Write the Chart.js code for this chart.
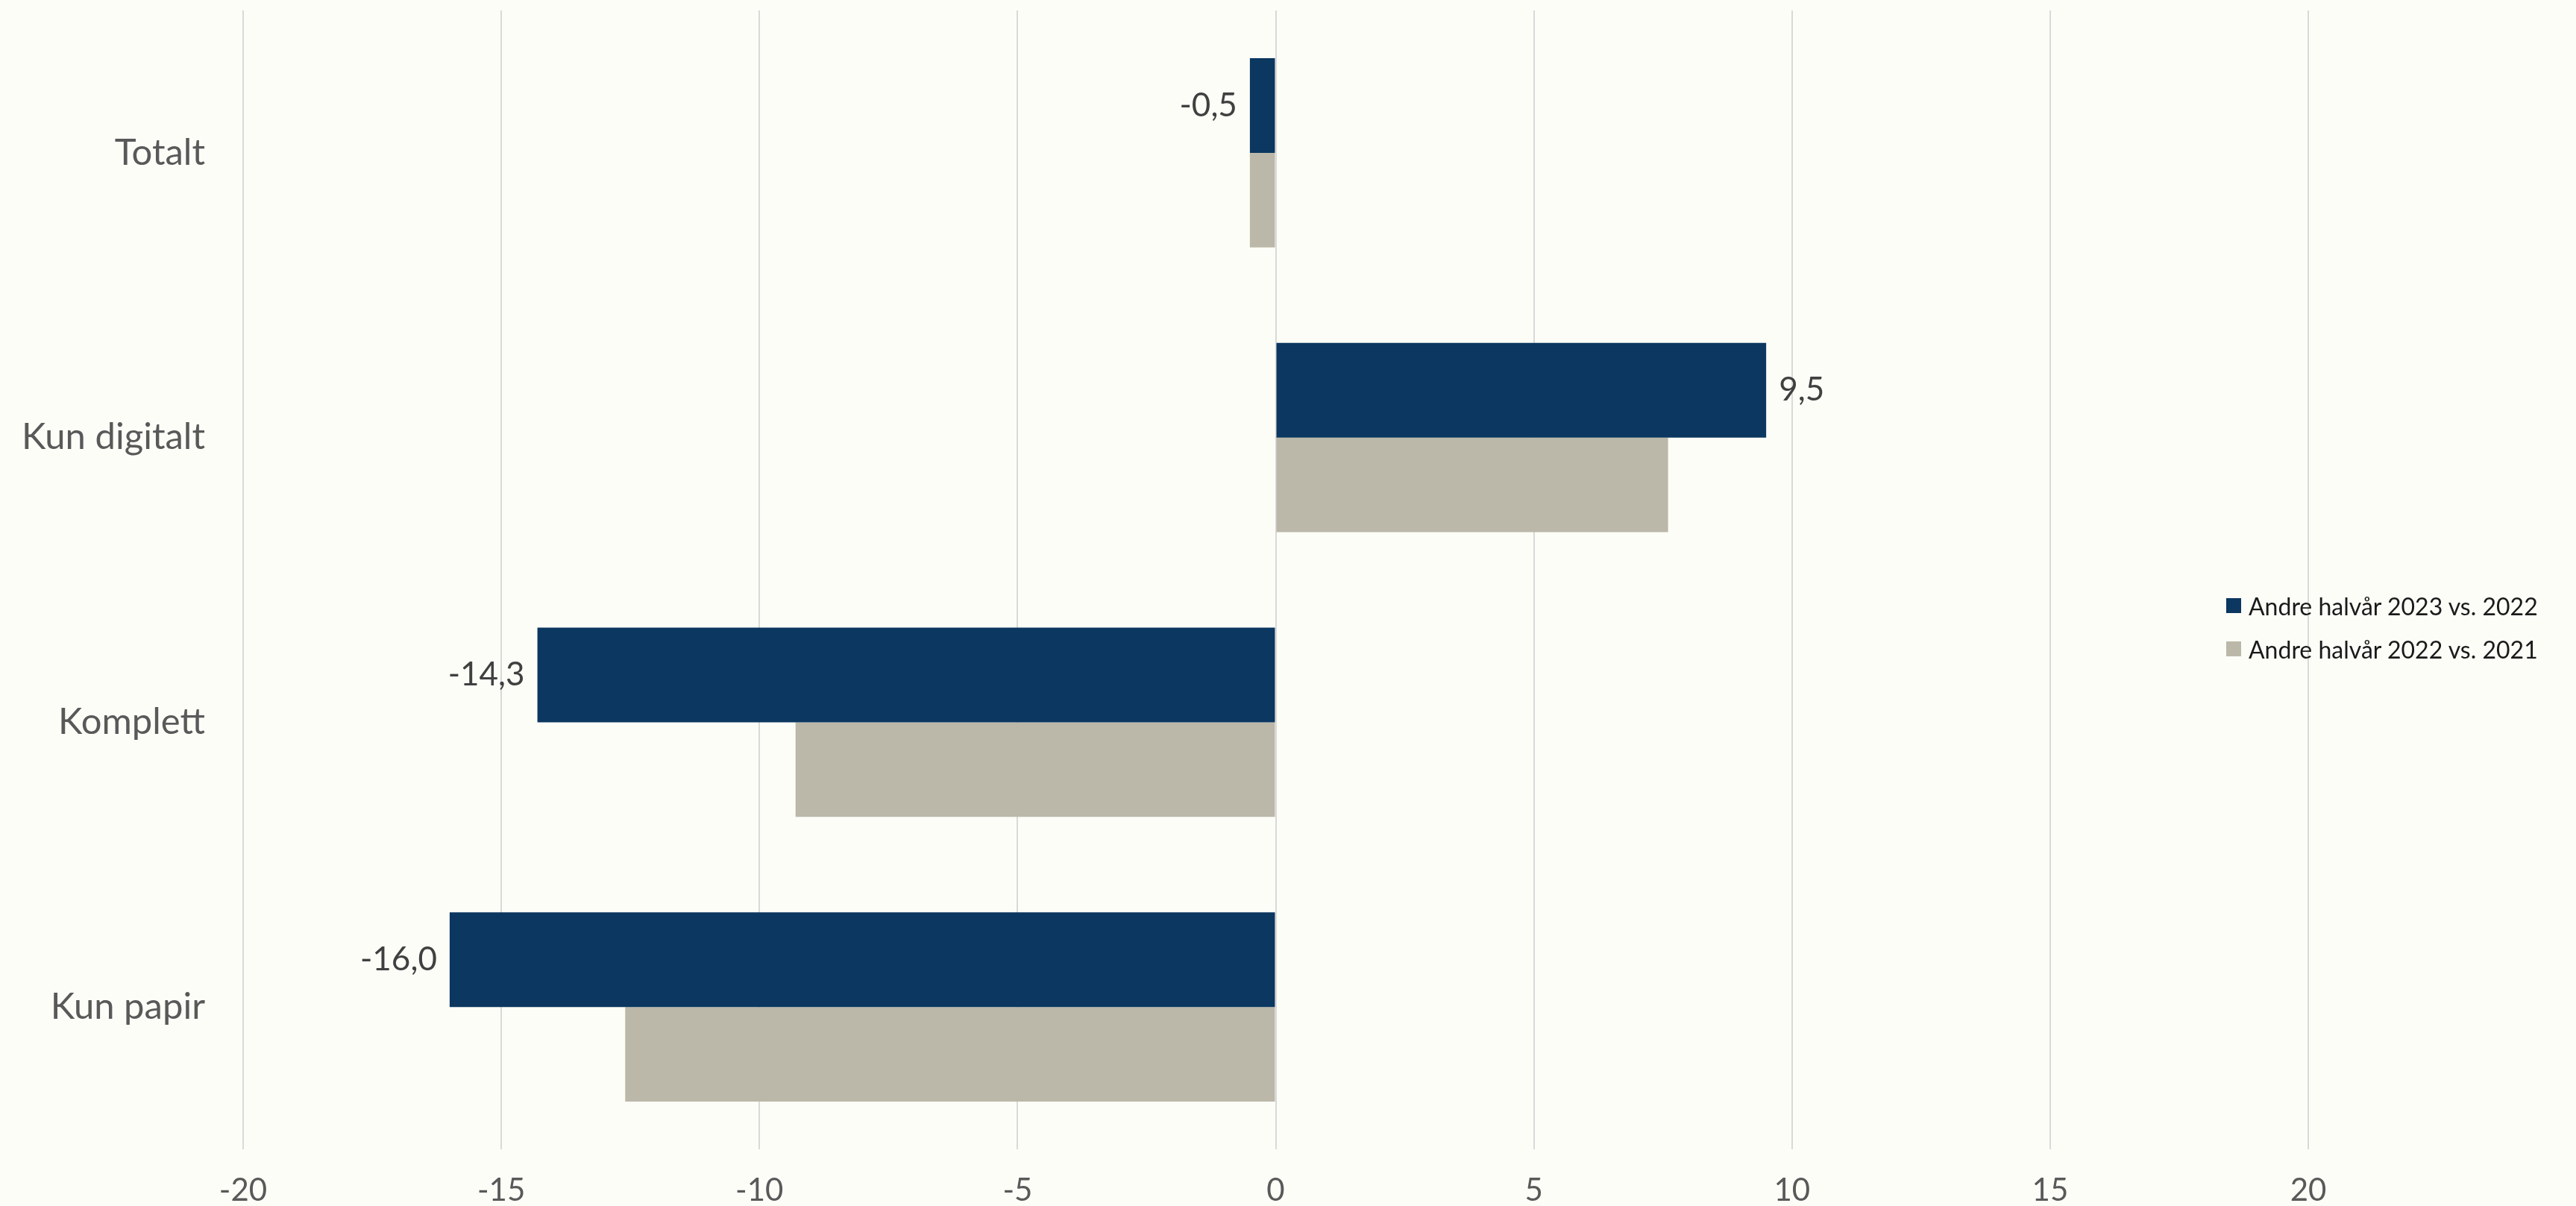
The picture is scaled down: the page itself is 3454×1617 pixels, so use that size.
<!DOCTYPE html>
<html>
<head>
<meta charset="utf-8">
<script src="https://cdn.jsdelivr.net/npm/chart.js@4.4.1/dist/chart.umd.min.js"></script>
<style>
  html, body { margin: 0; padding: 0; background: #FDFDF8; }
  #wrap { position: relative; width: 3454px; height: 1617px; background: #FDFDF8; }
  #legend { position: absolute; left: 2985px; top: 783px; font-family: Lato, "Open Sans", sans-serif; font-size: 32px; color: #1a1a1a; }
  .item { display: flex; align-items: center; height: 58px; white-space: nowrap; }
  .sw { width: 20px; height: 20px; margin-right: 10px; flex: none; }
</style>
</head>
<body>
<div id="wrap">
  <canvas id="c" width="3454" height="1617"></canvas>
  <div id="legend"></div>
</div>
<script>
const categories = ["Totalt", "Kun digitalt", "Komplett", "Kun papir"];
const seriesNames = ["Andre halvår 2023 vs. 2022", "Andre halvår 2022 vs. 2021"];
const values2023 = [-0.5, 9.5, -14.3, -16.0];
const values2022 = [-0.5, 7.6, -9.3, -12.6];
const xTicks = [-20, -15, -10, -5, 0, 5, 10, 15, 20];
const colors = ["#0B3760", "#BBB8A9"];

const FONT = "Lato, 'Open Sans', sans-serif";

const legendEl = document.getElementById('legend');
seriesNames.forEach((n, i) => {
  const d = document.createElement('div');
  d.className = 'item';
  d.innerHTML = '<span class="sw" style="background:' + colors[i] + '"></span><span></span>';
  d.lastChild.textContent = n;
  legendEl.appendChild(d);
});

const labelPlugin = {
  id: 'valueLabels',
  afterDatasetsDraw(chart) {
    const ctx = chart.ctx;
    const meta = chart.getDatasetMeta(0);
    ctx.save();
    ctx.font = "44px " + FONT;
    ctx.fillStyle = "#404040";
    ctx.textBaseline = "middle";
    meta.data.forEach((bar, i) => {
      const v = values2023[i];
      const txt = v.toFixed(1).replace('.', ',');
      if (v >= 0) {
        ctx.textAlign = "left";
        ctx.fillText(txt, bar.x + 17, bar.y);
      } else {
        ctx.textAlign = "right";
        ctx.fillText(txt, bar.x - 17, bar.y);
      }
    });
    ctx.restore();
  }
};

new Chart(document.getElementById('c'), {
  type: 'bar',
  data: {
    labels: categories,
    datasets: [
      { label: seriesNames[0], data: values2023, backgroundColor: colors[0], borderWidth: 0 },
      { label: seriesNames[1], data: values2022, backgroundColor: colors[1], borderWidth: 0 }
    ]
  },
  options: {
    indexAxis: 'y',
    responsive: false,
    animation: false,
    devicePixelRatio: 1,
    layout: { padding: { top: 14, right: 359, left: 0, bottom: 0 } },
    datasets: { bar: { categoryPercentage: 0.6653, barPercentage: 1.0 } },
    plugins: { legend: { display: false }, tooltip: { enabled: false } },
    scales: {
      x: {
        min: -20, max: 20,
        afterBuildTicks(s) { s.ticks = xTicks.map(v => ({ value: v })); },
        afterFit(s) { s.height = 76; s.paddingLeft = 0; s.paddingRight = 0; },
        grid: { color: "#D9D9D9", lineWidth: 2, drawTicks: false },
        border: { display: false },
        ticks: { color: "#595959", font: { family: FONT, size: 42 }, padding: 30, callback: v => String(v) }
      },
      y: {
        afterFit(s) { s.width = 326; s.paddingTop = 0; s.paddingBottom = 0; },
        grid: { display: false, drawTicks: false },
        border: { display: false },
        ticks: { color: "#595959", font: { family: FONT, size: 49 }, padding: 51 }
      }
    }
  },
  plugins: [labelPlugin]
});
</script>
</body>
</html>
